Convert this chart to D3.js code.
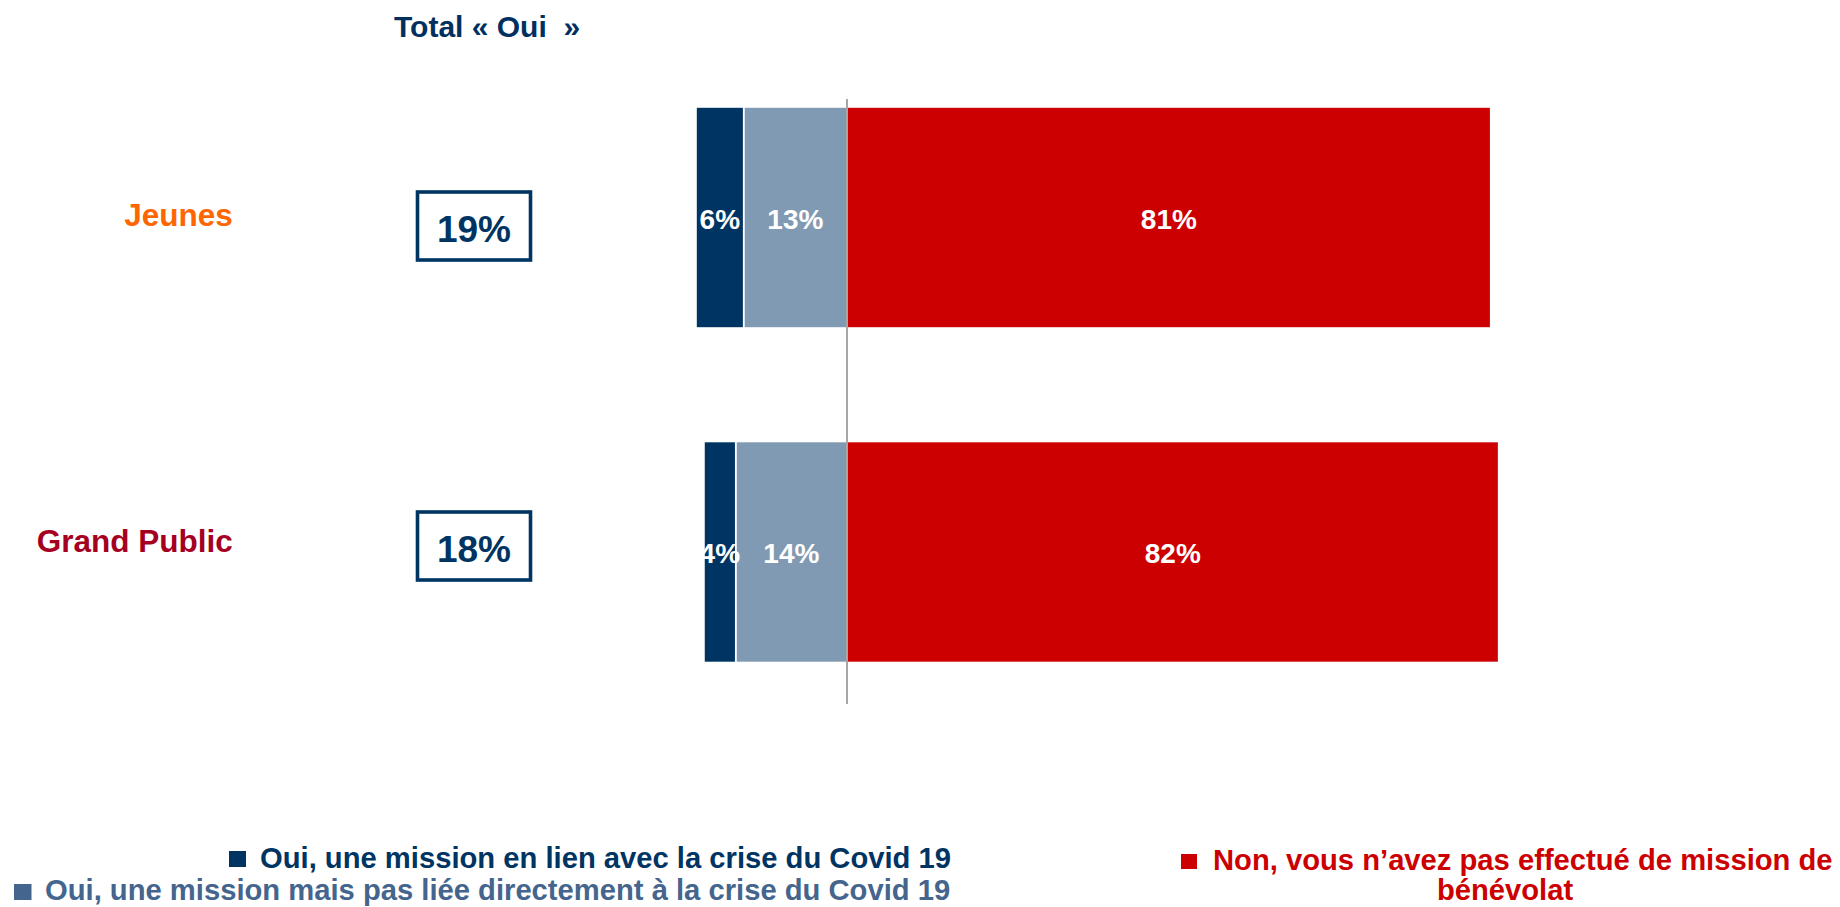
<!DOCTYPE html>
<html>
<head>
<meta charset="utf-8">
<script src="https://cdn.jsdelivr.net/npm/d3@7"></script>
<style>
  html, body { margin: 0; padding: 0; background: #fff; }
  svg { display: block; font-family: "Liberation Sans", Arial, sans-serif; }
</style>
</head>
<body>
<svg id="chart" width="1840" height="907"></svg>
<script>
// ---------- data ----------
const categories = ["Jeunes", "Grand Public"];
const categoryColors = ["#FF6600", "#A50021"];
const seriesKeys = ["ouiCovid", "ouiAutre", "non"];
const seriesLabels = [
  "Oui, une mission en lien avec la crise du Covid 19",
  "Oui, une mission mais pas liée directement à la crise du Covid 19",
  "Non, vous n’avez pas effectué de mission de bénévolat"
];
const ouiCovid = [6, 4];
const ouiAutre = [13, 14];
const non = [81, 82];
const titleText = "Total « Oui  »";

// ---------- styles ----------
const colors = { ouiCovid: "#003463", ouiAutre: "#7F9AB2", non: "#CC0000" };
const legendTextColors = { ouiCovid: "#003463", ouiAutre: "#44658D", non: "#CC0000" };
const navy = "#003463";

const svg = d3.select("#chart");

const rows = categories.map((c, i) => ({
  cat: c,
  ouiCovid: -ouiCovid[i],
  ouiAutre: -ouiAutre[i],
  non: non[i],
  total: ouiCovid[i] + ouiAutre[i]
}));

// scales
const x = d3.scaleLinear().domain([-100, 100]).range([847 - 794.7, 847 + 794.7]);
const y = d3.scaleBand().domain(categories).range([107, 662.5]).paddingInner(0.3393).paddingOuter(0);
const yLabel = d3.scalePoint().domain(categories).range([225.7, 551.7]);
const yBox = d3.scalePoint().domain(categories).range([226, 546]);

// diverging stack: inner "ouiAutre" first so it sits next to zero
const stack = d3.stack().keys(["ouiAutre", "ouiCovid", "non"]).offset(d3.stackOffsetDiverging);
const series = stack(rows);

// clip paths per row
const defs = svg.append("defs");
rows.forEach((r, i) => {
  defs.append("clipPath").attr("id", "clip" + i)
    .append("rect")
    .attr("x", x(-r.total))
    .attr("y", y(r.cat))
    .attr("width", x(r.non) - x(-r.total) + 2)
    .attr("height", y.bandwidth());
});

// bars
const gBars = svg.append("g");
series.forEach(s => {
  gBars.selectAll(null).data(s).join("rect")
    .attr("x", d => x(d[0]) < x(d[1]) ? x(d[0]) : x(d[1]))
    .attr("y", d => y(d.data.cat))
    .attr("width", d => Math.abs(x(d[1]) - x(d[0])))
    .attr("height", y.bandwidth())
    .attr("fill", colors[s.key])
    .attr("stroke", "#fff")
    .attr("stroke-width", 1.6);
});

// zero line
svg.append("line")
  .attr("x1", x(0)).attr("x2", x(0))
  .attr("y1", 99).attr("y2", 704)
  .attr("stroke", "#A6A6A6").attr("stroke-width", 2);

// bar labels
series.forEach(s => {
  s.forEach((d, i) => {
    const v = Math.abs(d[1] - d[0]);
    svg.append("text")
      .attr("clip-path", "url(#clip" + i + ")")
      .attr("x", (x(d[0]) + x(d[1])) / 2)
      .attr("y", y(d.data.cat) + y.bandwidth() / 2)
      .attr("dy", "0.4em")
      .attr("text-anchor", "middle")
      .attr("fill", "#fff")
      .attr("font-weight", "bold")
      .attr("font-size", 28)
      .text(v + "%");
  });
});

// category labels
svg.selectAll(".cat").data(categories).join("text")
  .attr("class", "cat")
  .attr("x", 232.7)
  .attr("y", d => yLabel(d))
  .attr("text-anchor", "end")
  .attr("font-weight", "bold")
  .attr("font-size", 31.5)
  .attr("fill", (d, i) => categoryColors[i])
  .text(d => d);

// title
svg.append("text")
  .attr("x", 394).attr("y", 37)
  .attr("font-weight", "bold").attr("font-size", 30)
  .attr("fill", "#00305F")
  .style("white-space", "pre")
  .text(titleText);

// total boxes
rows.forEach(r => {
  const cy = yBox(r.cat);
  svg.append("rect")
    .attr("x", 417.5).attr("y", cy - 34)
    .attr("width", 113).attr("height", 68)
    .attr("fill", "none").attr("stroke", navy).attr("stroke-width", 3.6);
  svg.append("text")
    .attr("x", 474).attr("y", cy + 15.7)
    .attr("text-anchor", "middle")
    .attr("font-weight", "bold").attr("font-size", 37)
    .attr("fill", navy)
    .text(r.total + "%");
});

// legend
const lg = svg.append("g").attr("font-weight", "bold").attr("font-size", 29.2);
// item 1
lg.append("rect").attr("x", 229).attr("y", 851).attr("width", 17).attr("height", 16).attr("fill", colors.ouiCovid);
lg.append("text").attr("x", 260).attr("y", 868).attr("fill", legendTextColors.ouiCovid).text(seriesLabels[0]);
// item 2
lg.append("rect").attr("x", 14).attr("y", 884).attr("width", 17.5).attr("height", 16).attr("fill", legendTextColors.ouiAutre);
lg.append("text").attr("x", 45).attr("y", 900).attr("fill", legendTextColors.ouiAutre).text(seriesLabels[1]);
// item 3 (wrapped)
const words3 = seriesLabels[2].split(" ");
const line1 = words3.slice(0, -1).join(" ");
const line2 = words3[words3.length - 1];
lg.append("rect").attr("x", 1181).attr("y", 854).attr("width", 16).attr("height", 15).attr("fill", colors.non);
lg.append("text").attr("x", 1213).attr("y", 870).attr("fill", legendTextColors.non).text(line1);
lg.append("text").attr("x", 1505).attr("y", 900).attr("text-anchor", "middle").attr("fill", legendTextColors.non).text(line2);
</script>
</body>
</html>
